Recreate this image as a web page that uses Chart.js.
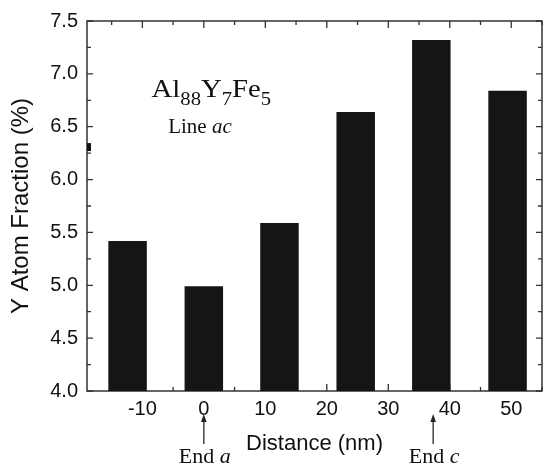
<!DOCTYPE html>
<html><head><meta charset="utf-8">
<script src="https://cdn.jsdelivr.net/npm/chart.js@4.4.0/dist/chart.umd.min.js"></script>
<style>html,body{margin:0;padding:0;background:#fff;overflow:hidden}</style>
</head><body>
<canvas id="c" width="544" height="465"></canvas>
<script>
const distances = [-12.4, 0, 12.3, 24.7, 37.0, 49.4];
const yFraction = [5.42, 4.99, 5.59, 6.64, 7.32, 6.84];
const xTicks = [-10, 0, 10, 20, 30, 40, 50];
const xMinorTicks = [-15, -5, 5, 15, 25, 35, 45, 55];
const yTicks = [4.0, 4.5, 5.0, 5.5, 6.0, 6.5, 7.0, 7.5];
const yMinorTicks = [4.25, 4.75, 5.25, 5.75, 6.25, 6.75, 7.25];
const endMarkLabels = ['a', 'c'];
const endMarkPositions = [0, 37.3];

const SANS = '"Liberation Sans", Arial, Helvetica, sans-serif';
const SERIF = '"Liberation Serif", "Times New Roman", serif';

const framePlugin = {
  id: 'frame',
  beforeDatasetsDraw(chart) {
    const {ctx, chartArea: a, scales: {x, y}} = chart;
    ctx.save();
    ctx.strokeStyle = '#333';
    ctx.lineWidth = 1.5;
    ctx.strokeRect(a.left, a.top, a.right - a.left, a.bottom - a.top);
    ctx.lineWidth = 1.3;
    ctx.beginPath();
    const xt = (v, len) => {
      const p = x.getPixelForValue(v);
      ctx.moveTo(p, a.top); ctx.lineTo(p, a.top + len);
      ctx.moveTo(p, a.bottom); ctx.lineTo(p, a.bottom - len);
    };
    const yt = (v, len) => {
      const p = y.getPixelForValue(v);
      ctx.moveTo(a.left, p); ctx.lineTo(a.left + len, p);
      ctx.moveTo(a.right, p); ctx.lineTo(a.right - len, p);
    };
    xTicks.forEach(v => xt(v, 7));
    xMinorTicks.forEach(v => xt(v, 4));
    yTicks.forEach(v => yt(v, 6));
    yMinorTicks.forEach(v => yt(v, 4));
    ctx.stroke();
    ctx.fillStyle = '#111';
    const m1 = y.getPixelForValue(6.345), m2 = y.getPixelForValue(6.27);
    ctx.fillRect(a.left, m1, 4, m2 - m1);
    ctx.restore();
  },
  afterDraw(chart) {
    const {ctx, chartArea: a, scales: {x, y}} = chart;
    ctx.save();
    ctx.fillStyle = '#111';
    ctx.textBaseline = 'alphabetic';
    ctx.textAlign = 'left';
    ctx.save();
    ctx.translate(x.getPixelForValue(-8.5), y.getPixelForValue(6.784));
    ctx.scale(1.15, 1);
    let cx = 0;
    const parts = [['Al', 25, 0], ['88', 18, 8], ['Y', 25, 0], ['7', 18, 8], ['Fe', 25, 0], ['5', 18, 8]];
    for (const [t, s, dy] of parts) {
      ctx.font = s + 'px ' + SERIF;
      ctx.fillText(t, cx, dy);
      cx += ctx.measureText(t).width;
    }
    ctx.restore();
    let lx = x.getPixelForValue(-5.8), ly = y.getPixelForValue(6.438);
    ctx.font = '21px ' + SERIF;
    ctx.fillText('Line ', lx, ly);
    lx += ctx.measureText('Line ').width;
    ctx.font = 'italic 21px ' + SERIF;
    ctx.fillText('ac', lx, ly);
    endMarkLabels.forEach((lab, i) => {
      const px = x.getPixelForValue(endMarkPositions[i]);
      ctx.strokeStyle = '#444';
      ctx.lineWidth = 1.5;
      ctx.beginPath();
      ctx.moveTo(px, a.bottom + 53);
      ctx.lineTo(px, a.bottom + 29);
      ctx.stroke();
      ctx.fillStyle = '#222';
      ctx.beginPath();
      ctx.moveTo(px, a.bottom + 23);
      ctx.lineTo(px - 2.8, a.bottom + 31);
      ctx.lineTo(px + 2.8, a.bottom + 31);
      ctx.closePath();
      ctx.fill();
      ctx.fillStyle = '#111';
      ctx.font = '22px ' + SERIF;
      const w1 = ctx.measureText('End ').width;
      ctx.font = 'italic 22px ' + SERIF;
      const w2 = ctx.measureText(lab).width;
      const tx = px + 1 - (w1 + w2) / 2;
      const ty = a.bottom + 72;
      ctx.font = '22px ' + SERIF;
      ctx.fillText('End ', tx, ty);
      ctx.font = 'italic 22px ' + SERIF;
      ctx.fillText(lab, tx + w1, ty);
    });
    ctx.restore();
  }
};

new Chart(document.getElementById('c'), {
  type: 'bar',
  data: {
    datasets: [{
      data: distances.map((d, i) => ({x: d, y: yFraction[i]})),
      backgroundColor: '#141615',
      borderWidth: 0,
      barPercentage: 0.626,
      categoryPercentage: 1.0
    }]
  },
  options: {
    responsive: false,
    animation: false,
    devicePixelRatio: 1,
    layout: {padding: {left: 0, right: 2, top: 19, bottom: 0}},
    plugins: {legend: {display: false}, tooltip: {enabled: false}},
    scales: {
      x: {
        type: 'linear', min: -19, max: 55, offset: false,
        afterBuildTicks(s) { s.ticks = xTicks.map(v => ({value: v})); },
        afterFit(s) { s.height = 74; },
        grid: {display: false, drawTicks: false},
        border: {display: false},
        ticks: {padding: 6, color: '#111', maxRotation: 0, autoSkip: false,
          font: {family: SANS, size: 20}, callback: v => String(v)},
        title: {display: true, text: 'Distance (nm)', color: '#111',
          font: {family: SANS, size: 22}, padding: {top: 0, bottom: 8}}
      },
      y: {
        type: 'linear', min: 4, max: 7.5,
        afterBuildTicks(s) { s.ticks = yTicks.map(v => ({value: v})); },
        afterFit(s) { s.width = 87; },
        grid: {display: false, drawTicks: false},
        border: {display: false},
        ticks: {padding: 9, color: '#111', autoSkip: false,
          font: {family: SANS, size: 20}, callback: v => Number(v).toFixed(1)},
        title: {display: true, text: 'Y Atom Fraction (%)', color: '#111',
          font: {family: SANS, size: 24}, padding: {top: 7, bottom: 0}}
      }
    }
  },
  plugins: [framePlugin]
});
</script>
</body></html>
